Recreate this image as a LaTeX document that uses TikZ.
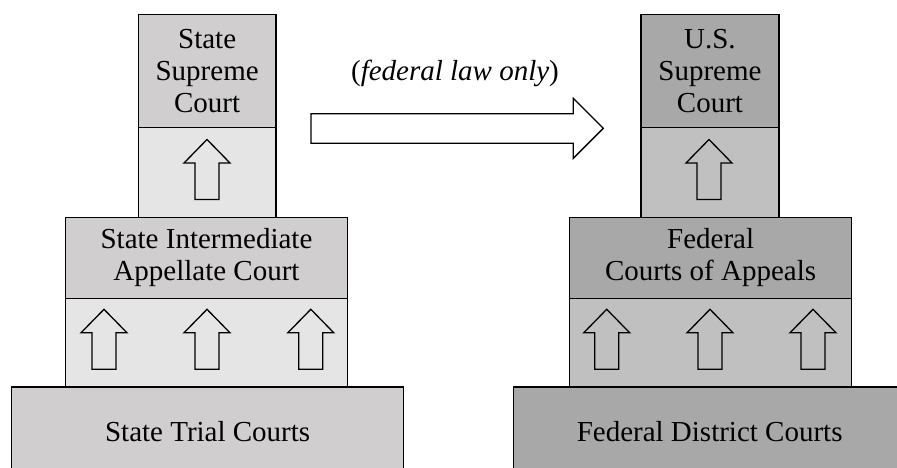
\documentclass[tikz,border=0pt]{standalone}
\usepackage{fontspec}
\setmainfont{Liberation Serif}
\definecolor{stateDark}{HTML}{D0CECF}
\definecolor{stateLight}{HTML}{E5E5E5}
\definecolor{fedDark}{HTML}{A8A8A8}
\definecolor{fedLight}{HTML}{C0C0C0}
\tikzset{
  courtbox/.style={draw=black, line width=1.3pt, inner sep=0pt, anchor=north west,
    font=\fontsize{29}{32}\selectfont, align=center},
  blockarrow/.style={draw=black, line width=1.3pt, line join=miter},
  pics/uparr/.style={code={
    \draw[blockarrow] (0,0) -- (23,23.5) -- (12,23.5) -- (12,60) -- (-12,60) -- (-12,23.5) -- (-23,23.5) -- cycle;
  }}
}
\begin{document}
\begin{tikzpicture}[x=1pt,y=-1pt]
\useasboundingbox (0,0) rectangle (897,468);
% ---- State column ----
\node[courtbox, fill=stateDark, minimum width=137.6pt, minimum height=113.3pt] (ssc) at (137.7,13.7) {State\\Supreme\\Court};
\node[courtbox, fill=stateLight, minimum width=137.6pt, minimum height=89.7pt] (sscA) at (137.7,127) {};
\node[courtbox, fill=stateDark, minimum width=282.3pt, minimum height=81.3pt] (sic) at (64.7,216.7) {State Intermediate\\Appellate Court};
\node[courtbox, fill=stateLight, minimum width=282.3pt, minimum height=88.3pt] (sicA) at (64.7,298) {};
\node[courtbox, fill=stateDark, minimum width=392pt, minimum height=89.7pt] (stc) at (11,386.3) {State Trial Courts};
\pic at (207,139.5) {uparr};
\pic at (104,309.3) {uparr};
\pic at (207,309.3) {uparr};
\pic at (310.8,309.3) {uparr};
% ---- Federal column ----
\node[courtbox, fill=fedDark, minimum width=138pt, minimum height=113.3pt] (usc) at (640.3,13.7) {U.S.\\Supreme\\Court};
\node[courtbox, fill=fedLight, minimum width=138pt, minimum height=89.7pt] (uscA) at (640.3,127) {};
\node[courtbox, fill=fedDark, minimum width=282pt, minimum height=81.3pt] (fca) at (569,216.7) {Federal\\Courts of Appeals};
\node[courtbox, fill=fedLight, minimum width=282pt, minimum height=88.3pt] (fcaA) at (569,298) {};
\node[courtbox, fill=fedDark, minimum width=392pt, minimum height=89.7pt] (fdc) at (513,386.3) {Federal District Courts};
\pic at (709,139.5) {uparr};
\pic at (606.7,309.3) {uparr};
\pic at (710,309.3) {uparr};
\pic at (813,309.3) {uparr};
% ---- federal law arrow ----
\node[font=\fontsize{29}{32}\selectfont, inner sep=0pt] (fedlaw) at (455,73) {(\textit{federal law only})};
\draw[blockarrow] (311,113.7) -- (573.3,113.7) -- (573.3,98.3) -- (603.3,128.3) -- (573.3,158.3) -- (573.3,143.3) -- (311,143.3) -- cycle;
\end{tikzpicture}
\end{document}
